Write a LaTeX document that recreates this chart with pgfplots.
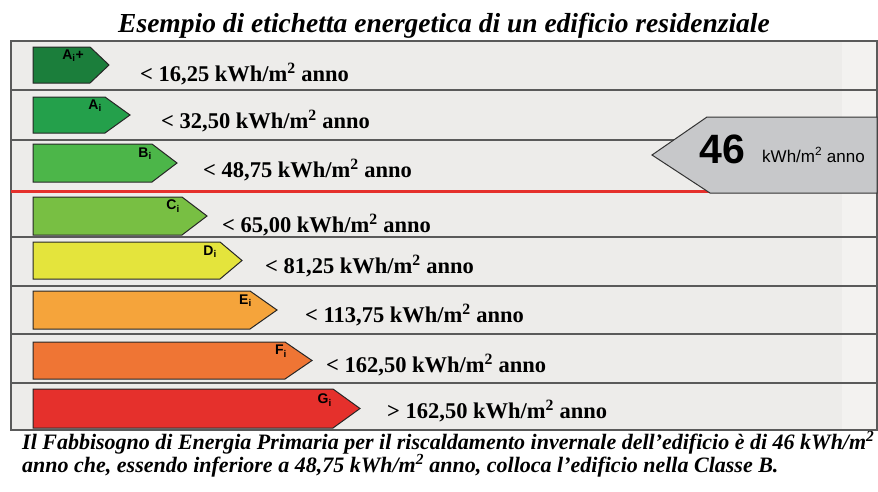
\documentclass[border=0pt]{standalone}
\usepackage{pgfplots}
\pgfplotsset{compat=1.18}
\usepackage{fontspec}
\setmainfont{Liberation Serif}
\newfontfamily\sansf{Liberation Sans}
\definecolor{cAp}{HTML}{1B7E3B}
\definecolor{cA}{HTML}{24A04B}
\definecolor{cB}{HTML}{4CB649}
\definecolor{cC}{HTML}{78BF43}
\definecolor{cD}{HTML}{E4E43C}
\definecolor{cE}{HTML}{F5A43B}
\definecolor{cF}{HTML}{EF7534}
\definecolor{cG}{HTML}{E5302C}
\definecolor{rowbg}{HTML}{EDECEA}
\definecolor{rowbg2}{HTML}{F3F2F0}
\definecolor{frame}{HTML}{5A5A5A}
\definecolor{grayarrow}{HTML}{C7C8CA}
\begin{document}
\begin{tikzpicture}
\begin{axis}[
  scale only axis, width=878pt, height=491pt,
  xmin=0, xmax=878, ymin=0, ymax=491, y dir=reverse,
  hide axis, clip=false,
]
\path (rel axis cs:0,0) rectangle (rel axis cs:1,1);
% background of rows
\addplot[fill=rowbg, draw=none] coordinates {(11,41) (877,41) (877,430) (11,430)} --cycle;
\addplot[fill=rowbg2, draw=none] coordinates {(842,41) (877,41) (877,430) (842,430)} --cycle;
% row separators
\addplot[draw=frame, line width=1.2pt] coordinates {(11,90) (877,90)};
\addplot[draw=frame, line width=1.2pt] coordinates {(11,140) (877,140)};
\addplot[draw=frame, line width=1.2pt] coordinates {(11,237) (877,237)};
\addplot[draw=frame, line width=1.2pt] coordinates {(11,286) (877,286)};
\addplot[draw=frame, line width=1.2pt] coordinates {(11,334) (877,334)};
\addplot[draw=frame, line width=1.2pt] coordinates {(11,383) (877,383)};
\addplot[draw=frame, line width=1.2pt] coordinates {(710,191) (877,191)};
% outer frame
\addplot[draw=frame, line width=1.4pt] coordinates {(11,41) (877,41) (877,430) (11,430)} --cycle;
% red line
\addplot[draw=cG, line width=3pt] coordinates {(11,191) (710,191)};
% class arrows
\addplot[fill=cAp, draw=black!85, line width=1pt] coordinates {(33,47) (90,47) (109,65) (90,83) (33,83)} --cycle;
\addplot[fill=cA, draw=black!85, line width=1pt] coordinates {(33,97) (105,97) (130,115) (105,133) (33,133)} --cycle;
\addplot[fill=cB, draw=black!85, line width=1pt] coordinates {(33,144) (152,144) (177,163) (152,182) (33,182)} --cycle;
\addplot[fill=cC, draw=black!85, line width=1pt] coordinates {(33,197) (182,197) (207,216) (182,235) (33,235)} --cycle;
\addplot[fill=cD, draw=black!85, line width=1pt] coordinates {(33,242) (220,242) (242,260.5) (220,279) (33,279)} --cycle;
\addplot[fill=cE, draw=black!85, line width=1pt] coordinates {(33,291) (250,291) (277,310) (250,329) (33,329)} --cycle;
\addplot[fill=cF, draw=black!85, line width=1pt] coordinates {(33,342) (285,342) (312,360.5) (285,379) (33,379)} --cycle;
\addplot[fill=cG, draw=black!85, line width=1pt] coordinates {(33,389) (333,389) (360,408.5) (333,428) (33,428)} --cycle;
% gray value arrow
\addplot[fill=grayarrow, draw=black!80, line width=1pt] coordinates {(652,155) (707,117) (877,117) (877,193) (710,193)} --cycle;

% class letters
\tikzset{cl/.style={anchor=north east, font=\sansf\bfseries\fontsize{14}{14}\selectfont, inner sep=0pt}}
\node[cl] at (axis cs:84,50) {A\textsubscript{i}+};
\node[cl] at (axis cs:102,100) {A\textsubscript{i}};
\node[cl] at (axis cs:152,148) {B\textsubscript{i}};
\node[cl] at (axis cs:180,200) {C\textsubscript{i}};
\node[cl] at (axis cs:217,246) {D\textsubscript{i}};
\node[cl] at (axis cs:252,295) {E\textsubscript{i}};
\node[cl] at (axis cs:287,345) {F\textsubscript{i}};
\node[cl] at (axis cs:332,394) {G\textsubscript{i}};

% thresholds
\tikzset{th/.style={anchor=base west, font=\bfseries\fontsize{22.5}{22.5}\selectfont, inner sep=0pt}}
\node[th] at (axis cs:140,81) {< 16,25 kWh/m\textsuperscript{2} anno};
\node[th] at (axis cs:161,128) {< 32,50 kWh/m\textsuperscript{2} anno};
\node[th] at (axis cs:203,177) {< 48,75 kWh/m\textsuperscript{2} anno};
\node[th] at (axis cs:222,232) {< 65,00 kWh/m\textsuperscript{2} anno};
\node[th] at (axis cs:265,273) {< 81,25 kWh/m\textsuperscript{2} anno};
\node[th] at (axis cs:305,322) {< 113,75 kWh/m\textsuperscript{2} anno};
\node[th] at (axis cs:326,372) {< 162,50 kWh/m\textsuperscript{2} anno};
\node[th] at (axis cs:387,418) {> 162,50 kWh/m\textsuperscript{2} anno};

% value
\node[anchor=base west, inner sep=0pt, font=\sansf\bfseries\fontsize{41}{41}\selectfont] at (axis cs:699,163) {46};
\node[anchor=base west, inner sep=0pt, font=\sansf\fontsize{17}{17}\selectfont] at (axis cs:762,162) {kWh/m\textsuperscript{2} anno};

% title
\node[anchor=base, inner sep=0pt, font=\bfseries\itshape\fontsize{27.5}{27.5}\selectfont] at (axis cs:444,32) {Esempio di etichetta energetica di un edificio residenziale};

% caption
\node[anchor=base west, inner sep=0pt, font=\bfseries\itshape\fontsize{22}{22}\selectfont] at (axis cs:22,449) {Il Fabbisogno di Energia Primaria per il riscaldamento invernale dell’edificio è di 46 kWh/m\textsuperscript{2}};
\node[anchor=base west, inner sep=0pt, font=\bfseries\itshape\fontsize{22}{22}\selectfont] at (axis cs:22,472) {anno che, essendo inferiore a 48,75 kWh/m\textsuperscript{2} anno, colloca l’edificio nella Classe B.};
\end{axis}
\end{tikzpicture}
\end{document}
